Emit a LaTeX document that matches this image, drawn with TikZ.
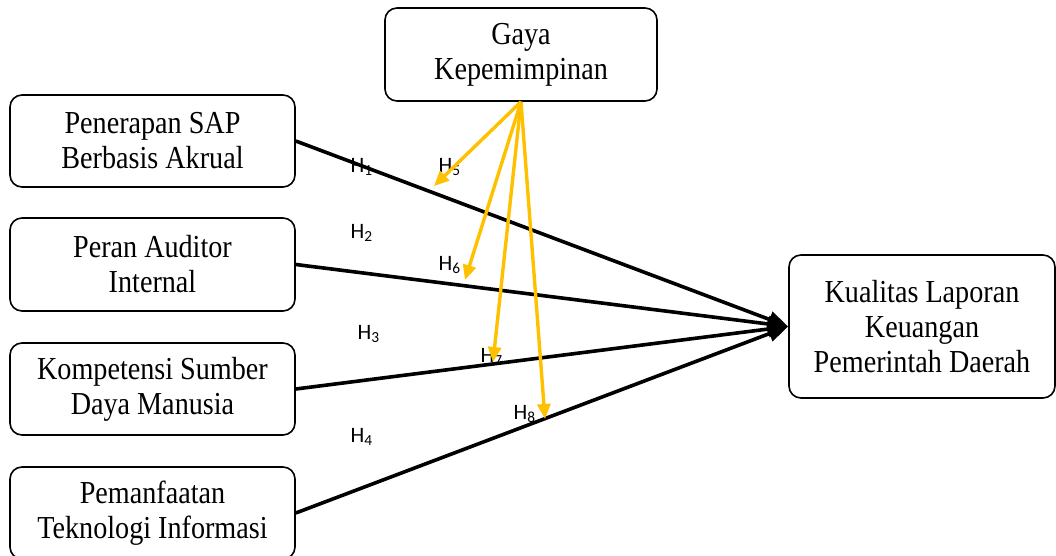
\documentclass[tikz,border=0pt]{standalone}
\usepackage{fontspec}
\setmainfont[FakeStretch=0.88]{Liberation Serif}
\newfontfamily\hfont{Carlito}
\usetikzlibrary{arrows.meta,positioning}
\definecolor{hyporange}{HTML}{FFC000}

\begin{document}
\begin{tikzpicture}[x=0.5pt, y=-0.5pt,
  varbox/.style = {draw, thick, shape = rectangle, rounded corners = 6pt, align = center,
                   font = \fontsize{16}{17.5}\selectfont, inner sep = 0pt},
  hlabel/.style = {font = \hfont\fontsize{11}{12}\selectfont, inner sep = 0pt},
  mainarrow/.style = {line width = 1.8pt, -{Triangle[length = 10pt, width = 8pt]}},
  modarrow/.style = {hyporange, line width = 1.7pt, -{Triangle[length = 7.5pt, width = 6.5pt]}}]
\useasboundingbox (0,0) rectangle (1056,556);

\node[varbox, minimum width = 142.5pt, minimum height = 46pt] (sap) at (152.5,141) {Penerapan SAP\\Berbasis Akrual};
\node[varbox, minimum width = 142.5pt, minimum height = 46.5pt] (auditor) at (152.5,264.5) {Peran Auditor\\Internal};
\node[varbox, minimum width = 142.5pt, minimum height = 46pt] (sdm) at (152.5,389) {Kompetensi Sumber\\Daya Manusia};
\node[varbox, minimum width = 142.5pt, minimum height = 46pt] (ti) at (152.5,513) {Pemanfaatan\\Teknologi Informasi};
\node[varbox, minimum width = 136pt, minimum height = 46.5pt] (gaya) at (521,54.5) {Gaya\\Kepemimpinan};
\node[varbox, minimum width = 133pt, minimum height = 71.5pt] (kualitas) at (922,326.5) {Kualitas Laporan\\Keuangan\\Pemerintah Daerah};

% hypothesis labels
\node[hlabel] (h1) at (362,167) {H\textsubscript{1}};
\node[hlabel] (h2) at (362,233) {H\textsubscript{2}};
\node[hlabel] (h3) at (369,334) {H\textsubscript{3}};
\node[hlabel] (h4) at (362,437) {H\textsubscript{4}};
\node[hlabel] (h5) at (450,167) {H\textsubscript{5}};
\node[hlabel] (h6) at (450,265) {H\textsubscript{6}};
\node[hlabel] (h7) at (492,357) {H\textsubscript{7}};
\node[hlabel] (h8) at (525,414) {H\textsubscript{8}};

% direct effects
\draw[mainarrow] (sap.east) -- (kualitas.west);
\draw[mainarrow] (auditor.east) -- (kualitas.west);
\draw[mainarrow] (sdm.east) -- (kualitas.west);
\draw[mainarrow] (ti.east) -- (kualitas.west);

% moderation
\coordinate (m5) at (434,186);
\coordinate (m6) at (465,280);
\coordinate (m7) at (493,362);
\coordinate (m8) at (545,419);
\foreach \m in {m5,m6,m7,m8}
  \draw[modarrow] (gaya.south) -- (\m);
\end{tikzpicture}
\end{document}
